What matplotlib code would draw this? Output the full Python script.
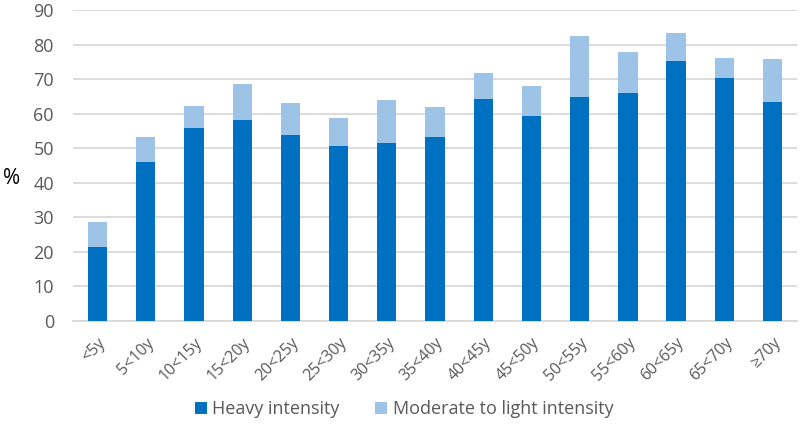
import matplotlib
matplotlib.use("Agg")
import matplotlib.pyplot as plt
import numpy as np

categories = ["<5y", "5<10y", "10<15y", "15<20y", "20<25y", "25<30y", "30<35y", "35<40y",
              "40<45y", "45<50y", "50<55y", "55<60y", "60<65y", "65<70y", "≥70y"]
heavy = [21.3, 46.1, 55.8, 58.1, 53.8, 50.7, 51.4, 53.4, 64.4, 59.4, 64.9, 65.9, 75.2, 70.5, 63.3]
total = [28.7, 53.3, 62.2, 68.6, 63.2, 58.8, 64.0, 62.1, 71.9, 68.1, 82.5, 77.9, 83.4, 76.2, 76.0]
moderate = [t - h for t, h in zip(total, heavy)]
yticks = [0, 10, 20, 30, 40, 50, 60, 70, 80, 90]

plt.rcParams['font.family'] = ['Open Sans', 'DejaVu Sans']

fig = plt.figure(figsize=(8, 4.24), dpi=100)
ax = fig.add_axes([0.0918, 0.243, 0.904, 0.733])

x = np.arange(len(categories))
ax.bar(x, heavy, width=0.4, color="#0070C0", label="Heavy intensity", zorder=3)
ax.bar(x, moderate, width=0.4, bottom=heavy, color="#9DC3E6",
       label="Moderate to light intensity", zorder=3)

ax.set_xlim(-0.5, len(categories) - 0.5)
ax.set_ylim(0, 90)
ax.set_yticks(yticks)
ax.yaxis.grid(True, color="#d9d9d9", linewidth=1.3, zorder=0)
for s in ["top", "right", "left"]:
    ax.spines[s].set_visible(False)
ax.spines["bottom"].set_color("#d9d9d9")
ax.spines["bottom"].set_linewidth(1.3)
ax.tick_params(axis="both", length=0, colors="#595959", labelsize=13)
ax.tick_params(axis="y", pad=14)
ax.set_xticks(x)
ax.set_xticklabels(categories, rotation=45, ha="right", rotation_mode="anchor")
ax.tick_params(axis="x", pad=10, labelsize=11.5)

fig.text(0.014, 0.58, "%", fontsize=15, color="black", ha="center", va="center")

leg = fig.legend(loc="lower center", bbox_to_anchor=(0.505, -0.025), ncol=2, frameon=False,
                 fontsize=13, handlelength=0.65, handleheight=0.65, handletextpad=0.3,
                 columnspacing=2.0, labelcolor="#595959")

fig.savefig("out.png", dpi=100)
